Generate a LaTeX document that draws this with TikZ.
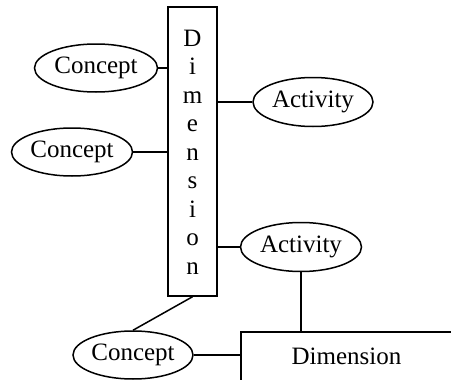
\documentclass[tikz,border=0pt]{standalone}
\usepackage{fontspec}
\setmainfont{Liberation Serif}
\usetikzlibrary{shapes.geometric}
\begin{document}
\begin{tikzpicture}[x=1pt,y=-1pt,
  every node/.style={font=\fontsize{25}{28.5}\selectfont},
  ent/.style={draw, line width=1.5pt, ellipse, minimum width=121pt, minimum height=48pt, inner sep=0pt},
  dimbox/.style={draw, line width=1.5pt, rectangle, inner sep=0pt},
  conn/.style={line width=1.5pt}]
\useasboundingbox (0,0) rectangle (451,380);
\clip (0,0) rectangle (451,380);
\node[dimbox, minimum width=49pt, minimum height=289pt] (dimV) at (192.5,151.5) {};
\node[align=center, inner sep=0pt] (dimVtext) at (192.5,152) {D\\i\\m\\e\\n\\s\\i\\o\\n};
\node[dimbox, minimum width=211pt, minimum height=49pt] (dimH) at (346.5,356.5) {Dimension};
\node[ent, minimum width=123pt] (c1) at (96,68) {Concept};
\node[ent] (c2) at (72,152) {Concept};
\node[ent, minimum width=120pt, minimum height=49pt] (a1) at (313,102) {Activity};
\node[ent, minimum height=49pt] (a2) at (301,247) {Activity};
\node[ent, minimum width=120pt] (c3) at (133,355) {Concept};
\draw[conn] (c1.east) -- (c1.east -| dimV.west);
\draw[conn] (c2.east) -- (c2.east -| dimV.west);
\draw[conn] (a1.west -| dimV.east) -- (a1.west);
\draw[conn] (a2.west -| dimV.east) -- (a2.west);
\draw[conn] (a2.south) -- (a2.south |- dimH.north);
\draw[conn] (dimV.south) -- (c3.north);
\draw[conn] (c3.east) -- (c3.east -| dimH.west);
\end{tikzpicture}
\end{document}
